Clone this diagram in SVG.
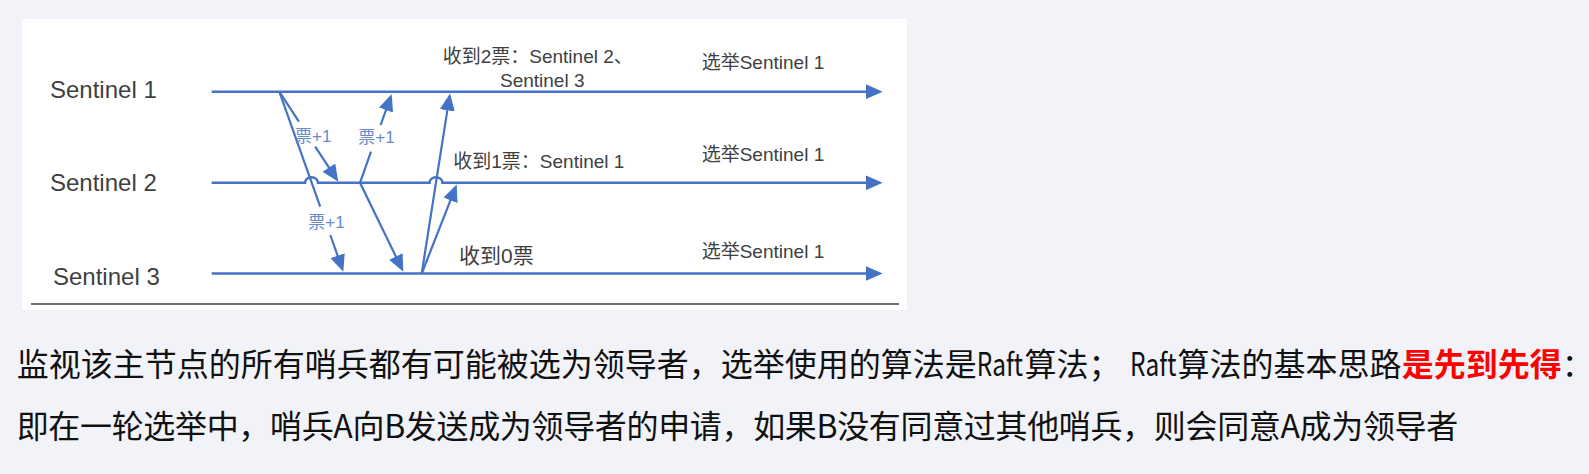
<svg xmlns="http://www.w3.org/2000/svg" width="1589" height="474" viewBox="0 0 1589 474">
  <style>
    .bg { fill: #F2F3F8; }
    .panel { fill: #FFFFFF; }
    .tl { fill: none; stroke: #4472C4; stroke-width: 2.5; }
    .msg { fill: none; stroke: #4472C4; stroke-width: 2.2; }
    .name { font-family: "Liberation Sans", "Noto Sans CJK SC", sans-serif; font-size: 24px; fill: #3F3F3F; }
    .note { font-family: "Liberation Sans", "Noto Sans CJK SC", sans-serif; font-size: 19px; fill: #404040; }
    .vote { font-family: "Liberation Sans", "Noto Sans CJK SC", sans-serif; font-size: 17px; fill: #6A8BCB; }
    .body { font-family: "Noto Sans CJK SC", "Noto Sans", sans-serif; font-size: 32px; fill: #111111; }
    .hl { font-weight: bold; fill: #FF0000; }
    .half { font-feature-settings: "halt"; }
  </style>
  <defs>
    <marker id="arr" markerUnits="userSpaceOnUse" markerWidth="17" markerHeight="15" viewBox="0 0 17 15" refX="13" refY="7.5" orient="auto">
      <path d="M0,0 L17,7.5 L0,15 Z" fill="#4472C4"/>
    </marker>
  </defs>

  <rect class="bg" x="0" y="0" width="1589" height="474"/>
  <rect class="panel" x="22" y="19" width="885" height="291"/>
  <line x1="31" y1="304" x2="899" y2="304" stroke="#404040" stroke-width="1.5"/>

  <g id="sentinel1">
    <text class="name" x="50" y="97.7">Sentinel 1</text>
    <path class="tl" d="M211.7,91.7 H878.7" marker-end="url(#arr)"/>
  </g>
  <g id="sentinel2">
    <text class="name" x="50" y="191">Sentinel 2</text>
    <path class="tl" d="M211.7,182.8 H305 A6.5,5.5 0 0 1 318,182.8 H429.5 A6.5,5.5 0 0 1 442.5,182.8 H878.7" marker-end="url(#arr)"/>
  </g>
  <g id="sentinel3">
    <text class="name" x="53" y="285">Sentinel 3</text>
    <path class="tl" d="M211.7,273.5 H878.7" marker-end="url(#arr)"/>
  </g>

  <g id="connectors">
    <path class="msg" d="M279.3,91.7 L320.2,206.7"/>
    <path class="msg" d="M330.3,235 L341.96,267.9" marker-end="url(#arr)"/>
    <path class="msg" d="M279.3,91.7 L298.9,121.7"/>
    <path class="msg" d="M315.2,146.7 L336.1,178.4" marker-end="url(#arr)"/>
    <path class="msg" d="M360,182.8 L371,151.7"/>
    <path class="msg" d="M380.6,125 L390.35,97.8" marker-end="url(#arr)"/>
    <path class="msg" d="M360,182.8 L401.55,268.1" marker-end="url(#arr)"/>
    <path class="msg" d="M421.7,273.5 L449.38,97.45" marker-end="url(#arr)"/>
    <path class="msg" d="M421.7,273.5 L455.24,188.22" marker-end="url(#arr)"/>
  </g>

  <g id="labels">
    <text class="vote" x="295" y="141.7">票+1</text>
    <text class="vote" x="358.3" y="143.3">票+1</text>
    <text class="vote" x="308.3" y="228.3">票+1</text>
    <text class="note" x="442.7" y="63.3">收到2票：Sentinel 2、</text>
    <text class="note" x="500" y="87.3">Sentinel 3</text>
    <text class="note" x="453.3" y="168.3">收到1票：Sentinel 1</text>
    <text class="note" x="459" y="263.3" style="font-size:21px">收到0票</text>
    <text class="note" x="701.7" y="69.3">选举Sentinel 1</text>
    <text class="note" x="701.7" y="160.7">选举Sentinel 1</text>
    <text class="note" x="701.7" y="258.3">选举Sentinel 1</text>
  </g>

  <g id="caption">
    <text class="body" x="16.7" y="376">监视该主节点的所有哨兵都有可能被选为领导者，选举使用的算法是</text>
    <text class="body" transform="translate(976.7,376) scale(0.8,1)" x="0" y="0" textLength="58" lengthAdjust="spacingAndGlyphs">Raft</text>
    <text class="body" x="1024.5" y="376">算法；</text>
    <text class="body" transform="translate(1130,376) scale(0.8,1)" x="0" y="0" textLength="58" lengthAdjust="spacingAndGlyphs">Raft</text>
    <text class="body" x="1177.5" y="376">算法的基本思路</text>
    <text class="body hl" x="1401.7" y="376">是先到先得</text>
    <text class="body half" x="1561.7" y="376">：</text>
    <text class="body" x="16.7" y="438" textLength="1441.6" lengthAdjust="spacing">即在一轮选举中，哨兵A向B发送成为领导者的申请，如果B没有同意过其他哨兵，则会同意A成为领导者</text>
  </g>
</svg>
